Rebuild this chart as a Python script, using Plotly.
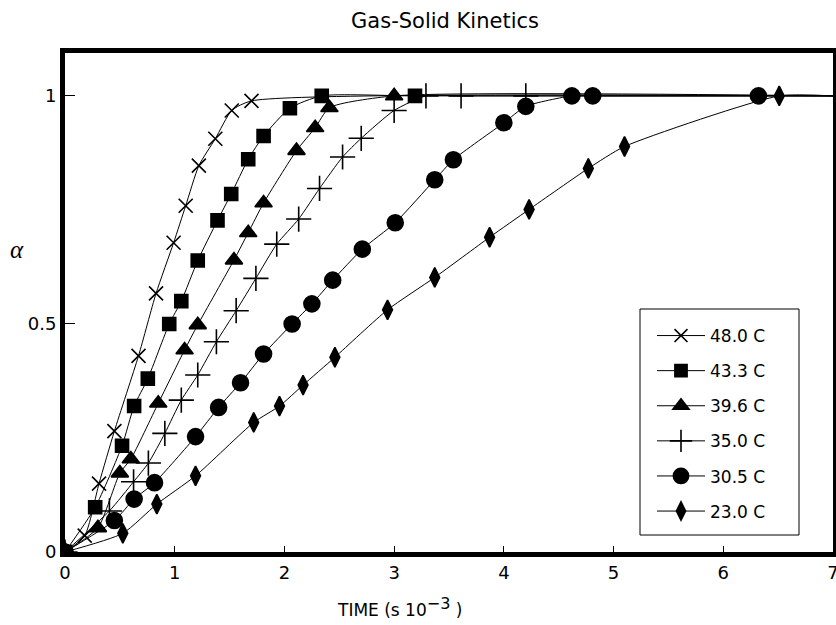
import plotly.graph_objects as go

# Time (s 10^-3) and conversion alpha for each temperature
t_480 = [0, 0.18, 0.31, 0.45, 0.67, 0.83, 0.99, 1.10, 1.22, 1.37, 1.52, 1.70, 7.0]
a_480 = [0, 0.036, 0.15, 0.265, 0.43, 0.567, 0.678, 0.759, 0.847, 0.906, 0.968, 0.989, 1.0]

t_433 = [0, 0.275, 0.52, 0.63, 0.755, 0.95, 1.06, 1.21, 1.39, 1.515, 1.67, 1.81, 2.05, 2.34, 3.19, 7.0]
a_433 = [0, 0.098, 0.233, 0.32, 0.38, 0.50, 0.55, 0.639, 0.727, 0.785, 0.861, 0.912, 0.973, 1.0, 1.0, 1.0]

t_396 = [0, 0.30, 0.50, 0.60, 0.85, 1.09, 1.21, 1.54, 1.67, 1.81, 2.11, 2.28, 2.41, 3.0, 7.0]
a_396 = [0, 0.053, 0.173, 0.204, 0.326, 0.443, 0.498, 0.64, 0.70, 0.765, 0.88, 0.93, 0.974, 1.0, 1.0]

t_350 = [0, 0.405, 0.625, 0.76, 0.91, 1.06, 1.21, 1.38, 1.56, 1.74, 1.93, 2.13, 2.32, 2.53, 2.70, 3.0, 3.29, 3.61, 4.2, 7.0]
a_350 = [0, 0.09, 0.154, 0.195, 0.26, 0.333, 0.388, 0.461, 0.529, 0.60, 0.675, 0.73, 0.797, 0.866, 0.907, 0.968, 1.0, 1.0, 1.0, 1.0]

t_305 = [0, 0.45, 0.63, 0.816, 1.19, 1.40, 1.60, 1.81, 2.07, 2.25, 2.44, 2.71, 3.01, 3.37, 3.54, 4.0, 4.2, 4.62, 4.81, 6.32, 7.0]
a_305 = [0, 0.069, 0.116, 0.152, 0.253, 0.317, 0.371, 0.434, 0.50, 0.544, 0.596, 0.664, 0.722, 0.816, 0.86, 0.941, 0.977, 1.0, 1.0, 1.0, 1.0]

t_230 = [0, 0.527, 0.837, 1.19, 1.72, 1.955, 2.17, 2.46, 2.94, 3.37, 3.87, 4.23, 4.77, 5.10, 6.51, 7.0]
a_230 = [0, 0.041, 0.105, 0.167, 0.284, 0.32, 0.366, 0.427, 0.531, 0.602, 0.69, 0.751, 0.841, 0.889, 1.0, 1.0]

series_names = ["48.0 C", "43.3 C", "39.6 C", "35.0 C", "30.5 C", "23.0 C"]
x_ticks = [0, 1, 2, 3, 4, 5, 6, 7]
y_ticks = [0, 0.5, 1]
y_tick_text = ["0", "0.5", "1"]

series = [(t_480, a_480), (t_433, a_433), (t_396, a_396),
          (t_350, a_350), (t_305, a_305), (t_230, a_230)]
symbols = ["x-thin-open", "square", "triangle-up", "cross-thin-open", "circle", "diamond-tall"]
sizes = [14, 13, 15, 18, 16, 14]

W, H = 836, 625
L, R, T, B = 65, 3, 53, 73
PW, PH = W - L - R, H - T - B


def px_x(px):
    return (px - L) / PW


def px_y(py):
    return (H - B - py) / PH


fig = go.Figure()
for i, ((tx, ay), name) in enumerate(zip(series, series_names)):
    # the closing point at the right frame carries no visible marker
    msize = [sizes[i]] * (len(tx) - 1) + [0]
    fig.add_trace(go.Scatter(
        x=tx, y=ay, name=name, mode="lines+markers",
        line=dict(color="black", width=1, shape="spline", smoothing=0.6),
        marker=dict(symbol=symbols[i], size=msize, color="black", opacity=1,
                    line=dict(color="black", width=1.6)),
        legendgroup=f"g{i}",
    ))

font_family = "DejaVu Sans, Liberation Sans, Arial, sans-serif"
fig.update_layout(
    width=W, height=H,
    margin=dict(l=L, r=R, t=T, b=B, autoexpand=False),
    paper_bgcolor="white", plot_bgcolor="white",
    font=dict(family=font_family, color="black", size=18),
    title=dict(text="Gas-Solid Kinetics", x=445 / W, xanchor="center",
               y=1 - 21 / H, yanchor="middle", xref="container", yref="container",
               font=dict(size=21, family=font_family)),
    showlegend=True,
    legend=dict(x=px_x(652), y=px_y(318), xanchor="left", yanchor="top",
                borderwidth=0, bgcolor="rgba(0,0,0,0)",
                font=dict(size=17, family=font_family),
                traceorder="grouped", tracegroupgap=10,
                itemwidth=48, itemsizing="trace"),
)
# legend frame
fig.add_shape(type="rect", xref="paper", yref="paper",
              x0=px_x(640), x1=px_x(799), y0=px_y(535), y1=px_y(309),
              line=dict(color="black", width=1), fillcolor="white", layer="below")
fig.update_xaxes(range=[0, 7], tickvals=x_ticks, ticks="inside", ticklen=6,
                 tickcolor="black", showline=True, linewidth=5, linecolor="black",
                 mirror=True, showgrid=False, zeroline=False, automargin=False,
                 ticklabeloverflow="allow",
                 tickfont=dict(size=18, family=font_family))
fig.update_yaxes(range=[0, 1.094], tickvals=y_ticks, ticktext=y_tick_text, ticks="inside",
                 ticklen=10, tickcolor="black", showline=True, linewidth=5,
                 linecolor="black", mirror=True, showgrid=False, zeroline=False,
                 automargin=False, tickfont=dict(size=18, family=font_family))
fig.add_annotation(text='TIME (s 10<sup><span style="font-size:16px">\u22123</span></sup> )',
                   xref="paper", yref="paper",
                   x=px_x(464), y=px_y(607), xanchor="right", yanchor="middle",
                   showarrow=False, font=dict(size=17, family=font_family, color="black"))
fig.add_annotation(text="<i>α</i>", xref="paper", yref="paper", x=px_x(17), y=px_y(250),
                   xanchor="center", yanchor="middle",
                   showarrow=False, font=dict(size=25, family="Liberation Serif",
                                              color="black"))
fig.write_html("out.html", config={"displayModeBar": False},
               post_script="document.body.style.margin='0px';")
